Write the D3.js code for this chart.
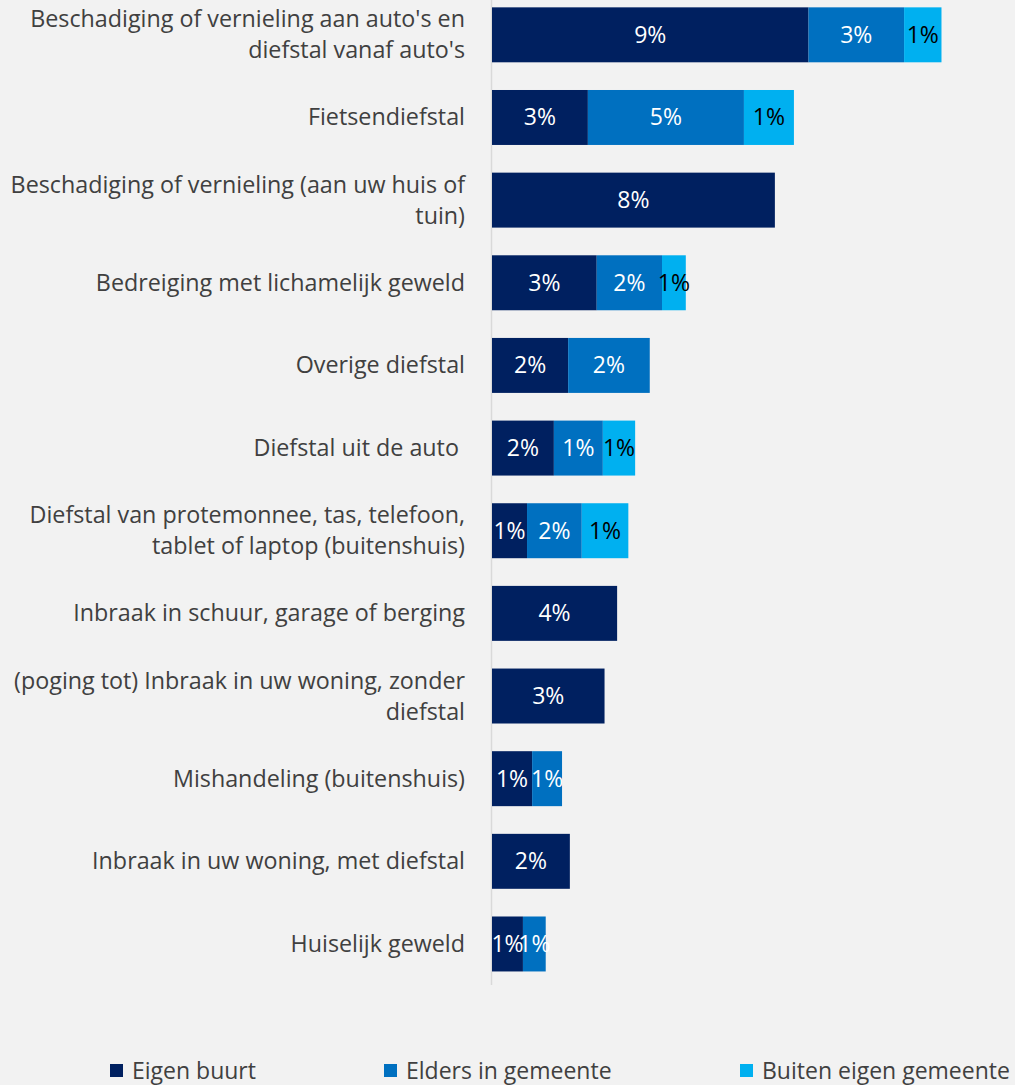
<!DOCTYPE html>
<html>
<head>
<meta charset="utf-8">
<script src="https://cdn.jsdelivr.net/npm/d3@7"></script>
<style>
  body { margin: 0; background: #f2f2f2; }
  svg { display: block; font-family: "Open Sans", sans-serif; }
  .cat { fill: #404040; font-size: 23.3px; white-space: pre; }
  .val { font-size: 23px; }
  .legend text { fill: #404040; font-size: 23px; }
</style>
</head>
<body>
<div id="chart"></div>
<script>
// categories (line breaks as in the original labels)
var categories = [
    "Beschadiging of vernieling aan auto's en\ndiefstal vanaf auto's",
    "Fietsendiefstal",
    "Beschadiging of vernieling (aan uw huis of\ntuin)",
    "Bedreiging met lichamelijk geweld",
    "Overige diefstal",
    "Diefstal uit de auto ",
    "Diefstal van protemonnee, tas, telefoon,\ntablet of laptop (buitenshuis)",
    "Inbraak in schuur, garage of berging",
    "(poging tot) Inbraak in uw woning, zonder\ndiefstal",
    "Mishandeling (buitenshuis)",
    "Inbraak in uw woning, met diefstal",
    "Huiselijk geweld"
];
var seriesNames = ["Eigen buurt", "Elders in gemeente", "Buiten eigen gemeente"];
// percentages
var eigenBuurt   = [9.31, 2.82, 8.32, 3.08, 2.24, 1.82, 1.03, 3.68, 3.31, 1.18, 2.29, 0.91];
var eldersGem    = [2.81, 4.59, 0,    1.92, 2.40, 1.44, 1.61, 0,    0,    0.88, 0,    0.67];
var buitenGem    = [1.10, 1.47, 0,    0.70, 0,    0.95, 1.37, 0,    0,    0,    0,    0];

var colors = ["#002060", "#0070c0", "#00b0f0"];
var labelColors = ["#ffffff", "#ffffff", "#000000"];

var width = 1015, height = 1085;

var svg = d3.select("#chart").append("svg")
    .attr("width", width)
    .attr("height", height);

var rows = categories.map(function(c, i) {
    return { cat: c, s0: eigenBuurt[i], s1: eldersGem[i], s2: buitenGem[i] };
});

var stacked = d3.stack().keys(["s0", "s1", "s2"])(rows);

var y = d3.scaleBand()
    .domain(categories)
    .range([-6.5, 985.3])
    .paddingInner(0.335)
    .paddingOuter(0.1675);

var x = d3.scaleLinear()
    .domain([0, 15])
    .range([492, 1002]);

// vertical axis line, no ticks
svg.append("g")
    .attr("class", "y-axis")
    .attr("transform", "translate(491.5,0)")
    .call(d3.axisLeft(y).tickSize(0).tickFormat(""))
    .call(function(g) {
        g.select(".domain").attr("stroke", "#d9d9d9").attr("stroke-width", 1.5)
            .attr("d", "M0,0V985");
    });

// category labels
var cats = svg.append("g").selectAll("text")
    .data(categories)
    .enter().append("text")
    .attr("class", "cat")
    .attr("text-anchor", "end")
    .attr("x", 465)
    .attr("y", function(d) { return y(d) + y.bandwidth() / 2; });

cats.each(function(d) {
    var lines = d.split("\n");
    var t = d3.select(this);
    var yc = y(d) + y.bandwidth() / 2;
    lines.forEach(function(l, i) {
        t.append("tspan")
            .attr("x", 465)
            .attr("y", yc + 8 + (i - (lines.length - 1) / 2) * 31)
            .text(l);
    });
});

// bars
var layers = svg.append("g").selectAll("g")
    .data(stacked)
    .enter().append("g")
    .attr("fill", function(d, i) { return colors[i]; });

layers.selectAll("rect")
    .data(function(d) { return d.filter(function(p) { return p[1] - p[0] > 0; }); })
    .enter().append("rect")
    .attr("x", function(d) { return x(d[0]); })
    .attr("y", function(d) { return y(d.data.cat); })
    .attr("width", function(d) { return x(d[1]) - x(d[0]); })
    .attr("height", y.bandwidth());

// value labels
layers.each(function(layer, li) {
    d3.select(this).selectAll("text")
        .data(layer.filter(function(p) { return p[1] - p[0] > 0; }))
        .enter().append("text")
        .attr("class", "val")
        .attr("text-anchor", "middle")
        .attr("fill", labelColors[li])
        .attr("x", function(d) { return (x(d[0]) + x(d[1])) / 2; })
        .attr("y", function(d) { return y(d.data.cat) + y.bandwidth() / 2 + 8; })
        .text(function(d) { return Math.round(d[1] - d[0]) + "%"; });
});

// legend
var legendX = [110, 384, 740];
var legend = svg.append("g").attr("class", "legend")
    .selectAll("g")
    .data(seriesNames)
    .enter().append("g")
    .attr("transform", function(d, i) { return "translate(" + legendX[i] + ",1064)"; });

legend.append("rect")
    .attr("width", 13)
    .attr("height", 13)
    .attr("fill", function(d, i) { return colors[i]; });

legend.append("text")
    .attr("x", 22)
    .attr("y", 15)
    .text(function(d) { return d; });
</script>
</body>
</html>
